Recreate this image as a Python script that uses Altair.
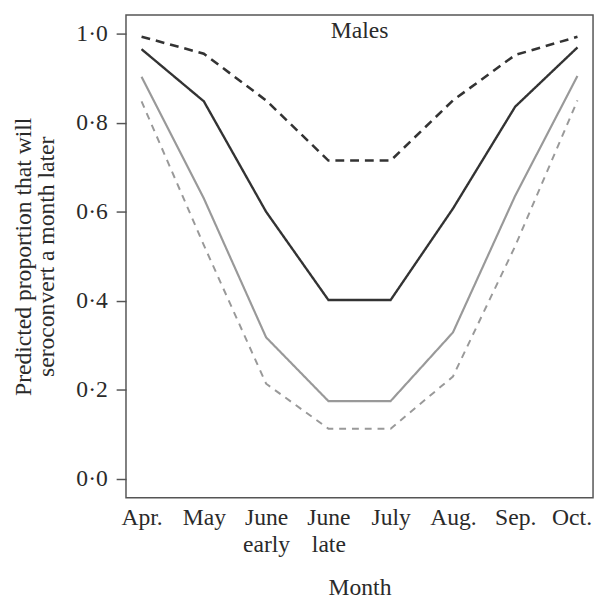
import altair as alt
import pandas as pd

months = ["Apr.", "May", "June early", "June late", "July", "Aug.", "Sep.", "Oct."]
upper_black = [0.993, 0.955, 0.85, 0.715, 0.715, 0.85, 0.952, 0.993]
est_black = [0.965, 0.848, 0.60, 0.402, 0.402, 0.607, 0.836, 0.969]
est_gray = [0.903, 0.63, 0.318, 0.175, 0.175, 0.329, 0.636, 0.905]
lower_gray = [0.848, 0.525, 0.214, 0.113, 0.113, 0.23, 0.523, 0.85]
y_ticks = [0.0, 0.2, 0.4, 0.6, 0.8, 1.0]

series_names = ["upper", "black", "gray", "lower"]
series_vals = [upper_black, est_black, est_gray, lower_gray]
rows = []
for name, vals in zip(series_names, series_vals):
    for m, v in zip(months, vals):
        rows.append({"month": m, "value": v, "series": name})
df = pd.DataFrame(rows)

FONT = "Liberation Serif"
FS = 24
TXT = "#2a2a2a"

chart = alt.Chart(df).mark_line().encode(
    x=alt.X("month:N", sort=months,
            scale=alt.Scale(type="point", padding=0.25),
            axis=alt.Axis(title="Month", ticks=False, domain=False,
                          labelAngle=0, labelPadding=8,
                          labelExpr="split(datum.label, ' ')",
                          labelOffset={"condition": {"test": "datum.value == 'Oct.'", "value": -6}, "value": 0},
                          labelLineHeight=28, labelFontSize=FS,
                          labelFont=FONT, labelColor=TXT,
                          titleFont=FONT, titleFontSize=FS,
                          titleFontWeight="normal", titleColor=TXT,
                          titlePadding=19, labelBaseline="top")),
    y=alt.Y("value:Q",
            scale=alt.Scale(domain=[-0.042, 1.042], nice=False, zero=False),
            axis=alt.Axis(title=["Predicted proportion that will", "seroconvert a month later"],
                          values=y_ticks, domain=False, grid=False,
                          tickSize=10, tickColor="#555", tickWidth=1.5,
                          labelPadding=9,
                          labelExpr="replace(format(datum.value, '.1f'), '.', '·')",
                          labelFont=FONT, labelFontSize=FS, labelColor=TXT,
                          titleFont=FONT, titleFontSize=FS, titleFontWeight="normal",
                          titleColor=TXT, titlePadding=18, titleLineHeight=23)),
    color=alt.Color("series:N",
                    scale=alt.Scale(domain=series_names,
                                    range=["#333333", "#333333", "#999999", "#999999"]),
                    legend=None),
    strokeDash=alt.StrokeDash("series:N",
                              scale=alt.Scale(domain=series_names,
                                              range=[[9, 6], [1, 0], [1, 0], [7, 6]]),
                              legend=None),
    strokeWidth=alt.StrokeWidth("series:N",
                                scale=alt.Scale(domain=series_names,
                                                range=[2.6, 2.0, 2.0, 1.8]),
                                legend=None),
    detail="series:N",
).properties(
    width=475,
    height=491,
    title=alt.TitleParams("Males", anchor="middle", offset=-28, font=FONT,
                          fontSize=FS, fontWeight="normal", color=TXT),
    autosize=alt.AutoSizeParams(type="none"),
    padding={"left": 120, "top": 2, "right": 2, "bottom": 98},
).configure_view(
    stroke="#555", strokeWidth=1.5
)

chart.save("out.html", embed_options={"renderer": "svg", "actions": False})
